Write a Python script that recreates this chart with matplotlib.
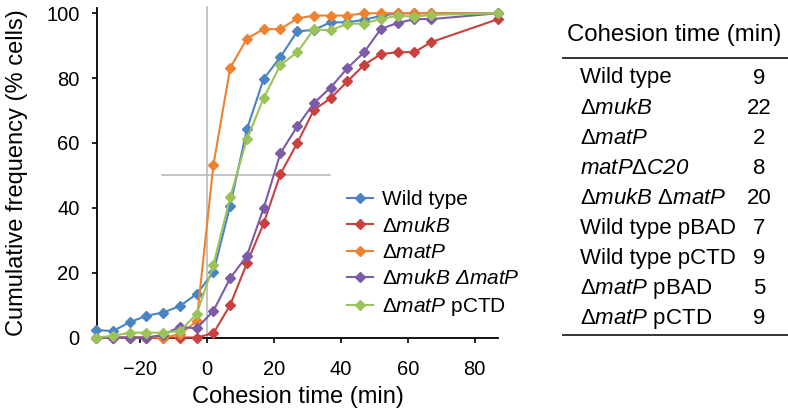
import numpy as np
import matplotlib
matplotlib.use('Agg')
import matplotlib.pyplot as plt
from matplotlib.lines import Line2D

plt.rcParams['font.family'] = ['Liberation Sans', 'DejaVu Sans']
plt.rcParams['mathtext.fontset'] = 'custom'
plt.rcParams['mathtext.rm'] = 'Liberation Sans'
plt.rcParams['mathtext.it'] = 'Liberation Sans:italic'
# sf is used for italic runs that hold digits or an italic Delta
plt.rcParams['mathtext.sf'] = 'Liberation Sans:italic'
plt.rcParams['mathtext.bf'] = 'Liberation Sans:bold'

# ---------------
# Data

t = [-33, -28, -23, -18, -13, -8, -3, 2, 7, 12, 17, 22, 27, 32, 37, 42, 47, 52, 57, 62, 67, 87]

wild_type = [2.3, 2.0, 4.7, 6.7, 7.7, 9.7, 13.4, 20.1, 40.6, 64.2, 79.8, 86.5, 94.4, 94.9,
             97.2, 97.2, 98.0, 99.2, 100, 100, 100, 100]
muk_b = [0, 0, 0, 0, 0, 0, 0, 1.3, 10.0, 22.9, 35.2, 50.4, 59.9, 70.2,
         73.8, 79.0, 84.1, 87.4, 88.0, 88.0, 91.1, 98.2]
mat_p = [0, 0, 0, 0, 0, 1.0, 5.0, 53.2, 83.1, 92.2, 95.1, 95.1, 98.4, 99.3,
         99.3, 99.3, 100, 100, 100, 100, 100, 100]
muk_b_mat_p = [0, 0, 0, 0, 0.8, 3.3, 2.8, 8.2, 18.3, 25.2, 39.9, 56.8, 65.1, 72.3,
               77.1, 83.1, 88.0, 95.2, 97.0, 98.2, 98.2, 100]
mat_p_pctd = [0, 0.5, 1.5, 1.5, 1.5, 2.0, 7.2, 22.4, 43.2, 61.2, 73.8, 84.1, 87.9, 95.1,
              94.7, 96.8, 96.8, 98.3, 99.2, 99.0, 99.5, 100]

series = [wild_type, muk_b, mat_p, muk_b_mat_p, mat_p_pctd]
labels = ['Wild type', r'$\Delta\mathit{mukB}$', r'$\Delta\mathit{matP}$',
          r'$\Delta\mathit{mukB}\ \mathsf{\Delta matP}$', r'$\Delta\mathit{matP}$ pCTD']
colors = ['#4a84c4', '#c9413f', '#ee8230', '#7c5ca8', '#9cc25a']

# Table of cohesion times
strains = ['Wild type', r'$\Delta\mathit{mukB}$', r'$\Delta\mathit{matP}$',
           r'$\mathit{matP}\Delta\mathsf{C20}$', r'$\Delta\mathit{mukB}\ \Delta\mathit{matP}$',
           'Wild type pBAD', 'Wild type pCTD', r'$\Delta\mathit{matP}$ pBAD',
           r'$\Delta\mathit{matP}$ pCTD']
cohesion = [9, 22, 2, 8, 20, 7, 9, 5, 9]

# ---------------
# Plot

W, H = 788, 411
fig = plt.figure(figsize=(W / 100, H / 100), dpi=100)

def fx(px):
    return px / W

def fy(py):
    return 1 - py / H

ax = fig.add_axes([fx(96.8), fy(337.5), fx(498.2) - fx(96.8), fy(8.4) - fy(337.5)])

# gray guide lines at t=0 and 50 %
ax.plot([0, 0], [0, 102], color='#b4b4b4', lw=1.1, clip_on=False, zorder=1)
ax.plot([-13.4, 36.8], [50, 50], color='#b4b4b4', lw=1.1, zorder=1)

for i in range(len(series)):
    ax.plot(t, series[i], color=colors[i], lw=1.5, marker='D', ms=5.6,
            label=labels[i], clip_on=False, zorder=3 + i)

ax.set_xlim(-32.8, 87)
ax.set_ylim(0, 101.5)
ax.set_xticks([-20, 0, 20, 40, 60, 80])
ax.set_yticks([0, 20, 40, 60, 80, 100])
ax.spines['top'].set_visible(False)
ax.spines['right'].set_visible(False)
for s in ['left', 'bottom']:
    ax.spines[s].set_linewidth(1.3)
ax.tick_params(labelsize=14.5, length=3.5, width=1.2)
ax.tick_params(axis='x', pad=13)
ax.tick_params(axis='y', pad=9)

ax.set_xlabel('Cohesion time (min)', fontsize=17, labelpad=4.5)
ax.set_ylabel('Cumulative frequency (% cells)', fontsize=17, labelpad=13)

leg = ax.legend(loc='upper left', bbox_to_anchor=(fx(347), fy(190)),
                bbox_transform=fig.transFigure, frameon=False, fontsize=15,
                handlelength=1.25, handletextpad=0.45, labelspacing=0.36,
                borderpad=0, borderaxespad=0, numpoints=1)

# ---------------
# Table on the right

fig.text(fx(566.7), fy(41), 'Cohesion time (min)', fontsize=17.3, va='baseline', ha='left')
fig.add_artist(Line2D([fx(563), fx(788)], [fy(58.3), fy(58.3)], color='#333333', lw=1.4))
for i in range(len(strains)):
    yb = 83.5 + 30.1 * i
    fig.text(fx(580), fy(yb), strains[i], fontsize=16, va='baseline', ha='left')
    fig.text(fx(759), fy(yb), str(cohesion[i]), fontsize=16, va='baseline', ha='center')
fig.add_artist(Line2D([fx(563), fx(788)], [fy(335), fy(335)], color='#333333', lw=1.4))

fig.savefig('out.png', dpi=100)
